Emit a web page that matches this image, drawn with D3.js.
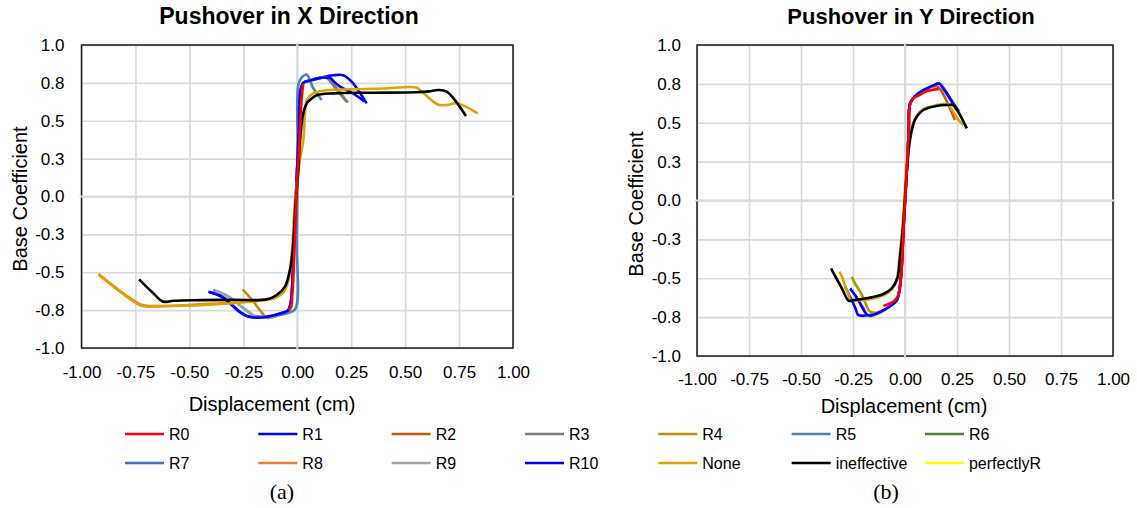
<!DOCTYPE html>
<html>
<head>
<meta charset="utf-8">
<script src="https://cdn.jsdelivr.net/npm/d3@7"></script>
<style>
  body { margin: 0; background: #fff; }
  svg text { font-family: "Liberation Sans", Arial, sans-serif; fill: #000; }
</style>
</head>
<body>
<svg id="chart" width="1137" height="508"></svg>
<script>
// Pushover curves (displacement in cm, base coefficient).

const seriesNames = ['R0', 'R1', 'R2', 'R3', 'R4', 'R5', 'R6', 'R7', 'R8', 'R9', 'R10', 'None', 'ineffective', 'perfectlyR'];

const xTickValues = [-1, -0.75, -0.5, -0.25, 0, 0.25, 0.5, 0.75, 1];
const xTickLabels = ['-1.00', '-0.75', '-0.50', '-0.25', '0.00', '0.25', '0.50', '0.75', '1.00'];
const yTickValues = [-1, -0.75, -0.5, -0.25, 0, 0.25, 0.5, 0.75, 1];
const yTickLabels = ['-1.0', '-0.8', '-0.5', '-0.3', '0.0', '0.3', '0.5', '0.8', '1.0'];

// X direction
const xR0 = [[-0.040, -0.750], [-0.030, -0.735], [-0.022, -0.630], [-0.013, -0.350], [-0.005, -0.020], [0.008, 0.310], [0.020, 0.640], [0.028, 0.745]];
const xR1 = [[-0.412, -0.628], [-0.360, -0.652], [-0.327, -0.683], [-0.295, -0.725], [-0.265, -0.762], [-0.235, -0.788], [-0.200, -0.795], [-0.142, -0.793], [-0.080, -0.772], [-0.042, -0.750], [-0.030, -0.700], [-0.018, -0.400], [-0.006, 0.000], [0.006, 0.400], [0.015, 0.700], [0.030, 0.752], [0.059, 0.765], [0.110, 0.785], [0.167, 0.800], [0.213, 0.801], [0.235, 0.780], [0.260, 0.745], [0.322, 0.615]];
const xR2 = [[-0.042, -0.752], [-0.030, -0.700], [-0.018, -0.400], [-0.006, 0.000], [0.006, 0.400], [0.015, 0.700], [0.030, 0.752], [0.059, 0.765], [0.110, 0.783], [0.140, 0.784], [0.190, 0.700], [0.234, 0.620]];
const xR3 = [[-0.042, -0.752], [-0.030, -0.700], [-0.018, -0.400], [-0.006, 0.000], [0.006, 0.400], [0.015, 0.700], [0.030, 0.752], [0.059, 0.765], [0.110, 0.783], [0.136, 0.782], [0.185, 0.700], [0.229, 0.626]];
const xR4 = [[-0.253, -0.613], [-0.205, -0.690], [-0.165, -0.765], [-0.140, -0.800], [-0.080, -0.782], [-0.042, -0.760], [-0.030, -0.710]];
const xR5 = [[-0.100, -0.785], [-0.040, -0.768], [-0.008, -0.740], [-0.002, -0.300], [0.002, 0.300], [0.005, 0.736], [0.020, 0.785], [0.044, 0.805], [0.055, 0.780], [0.072, 0.720], [0.090, 0.681], [0.113, 0.637]];
const xR6 = [];
const xR7 = [[-0.389, -0.617], [-0.340, -0.645], [-0.296, -0.683], [-0.265, -0.720], [-0.234, -0.752], [-0.204, -0.785], [-0.170, -0.795], [-0.100, -0.790]];
const xR8 = [[-0.921, -0.512], [-0.820, -0.625], [-0.729, -0.711], [-0.698, -0.722], [-0.451, -0.712], [-0.200, -0.690]];
const xR9 = [[-0.383, -0.622], [-0.334, -0.650], [-0.290, -0.688], [-0.259, -0.725], [-0.228, -0.757], [-0.198, -0.790], [-0.165, -0.798], [-0.100, -0.792]];
const xR10 = [[-0.405, -0.632], [-0.360, -0.655], [-0.325, -0.688], [-0.265, -0.765], [-0.220, -0.795], [-0.142, -0.795], [-0.080, -0.774], [-0.042, -0.752], [-0.030, -0.700], [-0.018, -0.400], [-0.006, 0.000], [0.006, 0.400], [0.015, 0.700], [0.030, 0.752], [0.059, 0.765], [0.110, 0.783], [0.152, 0.782], [0.175, 0.752], [0.198, 0.725], [0.245, 0.692], [0.314, 0.626]];
const xNone = [[-0.919, -0.518], [-0.820, -0.630], [-0.745, -0.705], [-0.715, -0.725], [-0.650, -0.725], [-0.451, -0.718], [-0.157, -0.685], [-0.100, -0.668], [-0.065, -0.635], [-0.040, -0.550], [-0.025, -0.370], [-0.010, -0.020], [0.008, 0.200], [0.028, 0.373], [0.036, 0.550], [0.044, 0.637], [0.074, 0.681], [0.121, 0.699], [0.245, 0.708], [0.400, 0.713], [0.554, 0.718], [0.577, 0.692], [0.615, 0.645], [0.654, 0.606], [0.693, 0.604], [0.739, 0.615], [0.836, 0.549]];
const xIneffective = [[-0.733, -0.547], [-0.670, -0.635], [-0.621, -0.694], [-0.574, -0.688], [-0.450, -0.684], [-0.300, -0.682], [-0.142, -0.679], [-0.095, -0.650], [-0.057, -0.595], [-0.034, -0.485], [-0.021, -0.353], [-0.008, -0.050], [0.004, 0.150], [0.013, 0.373], [0.028, 0.549], [0.044, 0.615], [0.059, 0.637], [0.090, 0.668], [0.167, 0.681], [0.350, 0.685], [0.554, 0.688], [0.610, 0.694], [0.654, 0.703], [0.693, 0.692], [0.782, 0.531]];
const xPerfectlyR = [];

// Y direction
const yR0 = [[-0.104, -0.678], [-0.075, -0.663], [-0.050, -0.645], [-0.030, -0.600], [-0.018, -0.470], [-0.006, -0.150], [0.008, 0.175], [0.018, 0.450], [0.025, 0.620], [0.040, 0.655], [0.065, 0.675], [0.110, 0.705], [0.163, 0.718]];
const yR1 = [[-0.288, -0.554], [-0.268, -0.610], [-0.249, -0.661], [-0.235, -0.705], [-0.225, -0.736], [-0.176, -0.738], [-0.120, -0.717], [-0.072, -0.680], [-0.040, -0.642], [-0.030, -0.600], [-0.018, -0.470], [-0.006, -0.150], [0.008, 0.175], [0.018, 0.450], [0.025, 0.625], [0.056, 0.680], [0.104, 0.720], [0.140, 0.742], [0.163, 0.752], [0.185, 0.720], [0.215, 0.655], [0.248, 0.582]];
const yR2 = [[-0.120, -0.717], [-0.072, -0.680], [-0.040, -0.642], [-0.030, -0.600], [-0.018, -0.470], [-0.006, -0.150], [0.008, 0.175], [0.018, 0.450], [0.025, 0.625], [0.056, 0.680], [0.104, 0.720], [0.150, 0.735], [0.170, 0.715], [0.200, 0.640], [0.240, 0.518]];
const yR3 = [[-0.235, -0.620], [-0.205, -0.680], [-0.175, -0.742], [-0.120, -0.720], [-0.072, -0.682], [-0.040, -0.642], [-0.030, -0.600], [-0.018, -0.470], [-0.006, -0.150], [0.008, 0.175], [0.018, 0.450], [0.025, 0.625], [0.056, 0.680], [0.104, 0.720], [0.140, 0.742], [0.167, 0.750], [0.192, 0.712], [0.225, 0.640], [0.262, 0.572]];
const yR4 = [[-0.256, -0.490], [-0.235, -0.545], [-0.210, -0.600], [-0.190, -0.660], [-0.168, -0.715], [-0.120, -0.722]];
const yR5 = [];
const yR6 = [];
const yR7 = [];
const yR8 = [];
const yR9 = [];
const yR10 = [[-0.264, -0.565], [-0.245, -0.600], [-0.225, -0.640], [-0.205, -0.690], [-0.185, -0.730], [-0.170, -0.740], [-0.120, -0.717], [-0.072, -0.680], [-0.040, -0.642], [-0.030, -0.600], [-0.018, -0.470], [-0.006, -0.150], [0.008, 0.175], [0.018, 0.450], [0.025, 0.625], [0.056, 0.680], [0.104, 0.720], [0.140, 0.742], [0.163, 0.752], [0.190, 0.710], [0.225, 0.640], [0.255, 0.575]];
const yNone = [[-0.316, -0.458], [-0.300, -0.500], [-0.285, -0.560], [-0.270, -0.610], [-0.262, -0.637], [-0.200, -0.640], [-0.104, -0.610], [-0.064, -0.574], [-0.040, -0.510], [-0.027, -0.370], [-0.011, -0.150], [0.005, 0.175], [0.021, 0.389], [0.045, 0.518], [0.085, 0.585], [0.150, 0.612], [0.200, 0.620], [0.225, 0.585], [0.255, 0.520], [0.281, 0.486]];
const yIneffective = [[-0.356, -0.437], [-0.330, -0.500], [-0.300, -0.575], [-0.271, -0.645], [-0.255, -0.642], [-0.184, -0.629], [-0.104, -0.601], [-0.064, -0.565], [-0.037, -0.500], [-0.024, -0.361], [-0.008, -0.147], [0.008, 0.175], [0.024, 0.389], [0.048, 0.518], [0.088, 0.582], [0.152, 0.608], [0.208, 0.614], [0.232, 0.614], [0.256, 0.571], [0.297, 0.464]];
const yPerfectlyR = [];

const seriesColours = {
  R0: '#ff0000', R1: '#0000ff', R2: '#c55a11', R3: '#7f7f7f', R4: '#bf9000', R5: '#4e81bd', R6: '#548235',
  R7: '#4472c4', R8: '#ed7d31', R9: '#a5a5a5', R10: '#0000ff', None: '#dea400', ineffective: '#000000', perfectlyR: '#ffff00'
};

const pushoverX = {
  R0: xR0, R1: xR1, R2: xR2, R3: xR3, R4: xR4, R5: xR5, R6: xR6, R7: xR7, R8: xR8, R9: xR9, R10: xR10,
  None: xNone, ineffective: xIneffective, perfectlyR: xPerfectlyR
};
const pushoverY = {
  R0: yR0, R1: yR1, R2: yR2, R3: yR3, R4: yR4, R5: yR5, R6: yR6, R7: yR7, R8: yR8, R9: yR9, R10: yR10,
  None: yNone, ineffective: yIneffective, perfectlyR: yPerfectlyR
};

// R0 sits on top of the elastic branch in the figure, so it is drawn last
const drawOrder = seriesNames.filter((d) => d !== 'R0').concat(['R0']);

const svg = d3.select('#chart');

function drawPanel(cfg, data) {
  const x = d3.scaleLinear().domain([-1, 1]).range([cfg.left, cfg.left + cfg.width]);
  const y = d3.scaleLinear().domain([-1, 1]).range([cfg.top + cfg.height, cfg.top]);
  const bottom = cfg.top + cfg.height;
  const right = cfg.left + cfg.width;

  const g = svg.append('g');

  g.append('g')
    .attr('transform', `translate(0,${bottom})`)
    .call(d3.axisBottom(x).tickValues(xTickValues).tickSize(-cfg.height).tickFormat(''))
    .call((a) => a.select('.domain').remove())
    .selectAll('line')
    .attr('stroke', '#d9d9d9')
    .attr('stroke-width', 1.6);

  g.append('g')
    .attr('transform', `translate(${cfg.left},0)`)
    .call(d3.axisLeft(y).tickValues(yTickValues).tickSize(-cfg.width).tickFormat(''))
    .call((a) => a.select('.domain').remove())
    .selectAll('line')
    .attr('stroke', '#d9d9d9')
    .attr('stroke-width', 1.6);

  g.append('rect')
    .attr('x', cfg.left)
    .attr('y', cfg.top)
    .attr('width', cfg.width)
    .attr('height', cfg.height)
    .attr('fill', 'none')
    .attr('stroke', '#1a1a1a')
    .attr('stroke-width', 1.5);

  // zero axes, light grey, a touch over the border
  g.append('line')
    .attr('x1', cfg.left - 2).attr('x2', right + 2)
    .attr('y1', y(0)).attr('y2', y(0))
    .attr('stroke', '#d9d9d9').attr('stroke-width', 2);
  g.append('line')
    .attr('x1', x(0)).attr('x2', x(0))
    .attr('y1', cfg.top - 2).attr('y2', bottom + 2)
    .attr('stroke', '#d9d9d9').attr('stroke-width', 2);

  g.append('g')
    .attr('transform', `translate(0,${bottom})`)
    .call(d3.axisBottom(x).tickValues(xTickValues).tickSize(0).tickPadding(cfg.xPad).tickFormat((d, i) => xTickLabels[i]))
    .call((a) => a.select('.domain').remove())
    .attr('font-size', 17)
    .attr('font-family', '"Liberation Sans", Arial, sans-serif');

  g.append('g')
    .attr('transform', `translate(${cfg.left},0)`)
    .call(d3.axisLeft(y).tickValues(yTickValues).tickSize(0).tickPadding(cfg.yPad).tickFormat((d, i) => yTickLabels[i]))
    .call((a) => a.select('.domain').remove())
    .attr('font-size', 17)
    .attr('font-family', '"Liberation Sans", Arial, sans-serif');

  const line = d3
    .line()
    .x((d) => x(d[0]))
    .y((d) => y(d[1]))
    .curve(d3.curveCatmullRom.alpha(0.5));

  drawOrder.forEach((name) => {
    const pts = data[name];
    if (!pts.length) return;
    g.append('path')
      .datum(pts)
      .attr('fill', 'none')
      .attr('stroke', seriesColours[name])
      .attr('stroke-width', 2.6)
      .attr('stroke-linejoin', 'round')
      .attr('d', line);
  });

  g.append('text')
    .attr('x', cfg.titleX)
    .attr('y', 24)
    .attr('text-anchor', 'middle')
    .attr('font-weight', 'bold')
    .attr('font-size', cfg.titleSize)
    .text(cfg.title);

  g.append('text')
    .attr('x', cfg.xTitleX)
    .attr('y', cfg.xTitleY)
    .attr('text-anchor', 'middle')
    .attr('font-size', 20)
    .text('Displacement (cm)');

  g.append('text')
    .attr('transform', `translate(${cfg.yTitleX},${cfg.yTitleY}) rotate(-90)`)
    .attr('text-anchor', 'middle')
    .attr('font-size', 20)
    .text('Base Coefficient');
}

drawPanel(
  { left: 81.5, top: 45, width: 431.5, height: 303, xPad: 18, yPad: 17, title: 'Pushover in X Direction', titleX: 289, titleSize: 23, xTitleX: 272, xTitleY: 411, yTitleX: 27, yTitleY: 199 },
  pushoverX
);
drawPanel(
  { left: 697, top: 45, width: 416, height: 311, xPad: 17, yPad: 16, title: 'Pushover in Y Direction', titleX: 911, titleSize: 22, xTitleX: 904, xTitleY: 413, yTitleX: 643, yTitleY: 204 },
  pushoverY
);

// legend, two rows of seven
const legend = svg.append('g');
seriesNames.forEach((name, i) => {
  const col = i % 7;
  const row = Math.floor(i / 7);
  const x0 = 125 + col * 133.33;
  const y0 = 434 + row * 29;
  legend.append('line')
    .attr('x1', x0).attr('x2', x0 + 39)
    .attr('y1', y0).attr('y2', y0)
    .attr('stroke', seriesColours[name])
    .attr('stroke-width', 2.6);
  legend.append('text')
    .attr('x', x0 + 44)
    .attr('y', y0 + 6)
    .attr('font-size', 16)
    .text(name);
});

svg.append('text')
  .attr('x', 282).attr('y', 499)
  .attr('text-anchor', 'middle')
  .attr('font-size', 22)
  .style('font-family', '"Liberation Serif", "Times New Roman", serif')
  .text('(a)');
svg.append('text')
  .attr('x', 886).attr('y', 499)
  .attr('text-anchor', 'middle')
  .attr('font-size', 22)
  .style('font-family', '"Liberation Serif", "Times New Roman", serif')
  .text('(b)');
</script>
</body>
</html>
